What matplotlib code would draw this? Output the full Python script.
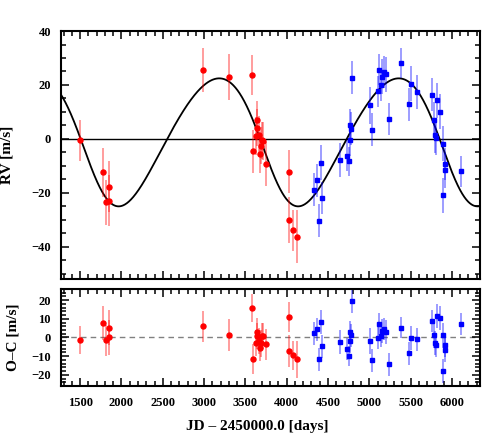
import numpy as np
import matplotlib
matplotlib.use("Agg")
import matplotlib.pyplot as plt
from matplotlib.ticker import MultipleLocator

# first instrument (red circles)
t_red = [1500, 1780, 1817, 1852, 1852, 2985, 3303, 3585, 3590, 3628, 3638,
         3645, 3666, 3680, 3690, 3704, 3710, 3750, 4027, 4027, 4079, 4120]
rv_red = [-0.6, -12.4, -23.5, -17.7, -22.9, 25.6, 23.0, 23.6, -4.6, 1.0, 6.9,
          4.2, 1.3, -5.6, -2.5, -0.6, -0.7, -9.4, -12.2, -30.1, -34.0, -36.3]
oc_red = [-1.6, 7.8, -1.6, 5.3, 0.2, 5.9, 1.4, 16.0, -11.7, -3.0, 3.2,
          0.9, -1.8, -5.7, -3.2, 0.6, 1.0, -3.7, 10.9, -7.1, -9.6, -11.7]
err_red = [7.5, 9.0, 8.3, 9.4, 9.4, 8.2, 8.6, 7.5, 8.0, 7.0, 7.0,
           7.0, 7.0, 7.0, 7.0, 7.0, 7.0, 8.2, 8.0, 8.5, 7.6, 9.8]

# second instrument (blue squares)
t_blue = [4331, 4371, 4395, 4419, 4424, 4640, 4728, 4755, 4760, 4770, 4778, 4785,
          5010, 5038, 5099, 5117, 5140, 5150, 5180, 5200, 5232, 5378, 5484, 5502,
          5580, 5758, 5781, 5798, 5803, 5820, 5859, 5888, 5888, 5914, 5918, 6113]
rv_blue = [-18.8, -15.4, -30.3, -8.9, -21.9, -7.8, -6.2, -8.4, -0.3, 5.0, 3.8, 22.7,
           12.4, 3.4, 17.6, 25.7, 20.1, 23.0, 24.9, 23.9, 7.3, 28.1, 12.8, 20.5,
           17.4, 16.4, 7.0, 1.3, 0.4, 14.3, 10.1, -1.9, -20.9, -9.3, -11.7, -12.1]
oc_blue = [2.3, 4.3, -11.7, 8.4, -4.8, -2.5, -6.0, -9.9, -2.1, 2.7, 1.1, 19.5,
           -2.1, -12.2, -0.3, 7.1, 0.7, 3.6, 4.6, 3.0, -14.4, 5.3, -8.5, -0.3,
           -0.9, 8.9, 1.1, -2.8, -4.2, 11.7, 10.6, 1.1, -17.9, -4.2, -6.5, 7.4]
err_blue = [6.2, 6.0, 6.2, 6.5, 6.0, 6.3, 5.8, 5.3, 6.0, 6.0, 6.0, 6.2,
            7.0, 6.2, 5.8, 5.8, 6.0, 6.5, 6.0, 6.5, 6.0, 5.7, 6.0, 6.5,
            6.2, 6.0, 6.5, 6.5, 6.5, 6.5, 6.5, 6.5, 6.5, 6.0, 6.5, 5.8]

# keplerian fit parameters
P = 2172.0
K = 23.75
ecc = 0.11
omega = np.radians(120.0)
Tp = 3839.0
gamma = 0.0


def kepler_rv(t):
    M = 2 * np.pi * (t - Tp) / P
    E = M.copy()
    for _ in range(30):
        E = E - (E - ecc * np.sin(E) - M) / (1 - ecc * np.cos(E))
    nu = 2 * np.arctan2(np.sqrt(1 + ecc) * np.sin(E / 2), np.sqrt(1 - ecc) * np.cos(E / 2))
    return K * (np.cos(nu + omega) + ecc * np.cos(omega)) + gamma


plt.rcParams['font.family'] = ['Liberation Serif', 'DejaVu Serif']
plt.rcParams['font.weight'] = 'bold'
plt.rcParams['font.size'] = 9

fig = plt.figure(figsize=(5.01, 4.42), dpi=100)
ax1 = fig.add_axes([0.1212, 0.3688, 0.837, 0.561])
ax2 = fig.add_axes([0.1212, 0.1267, 0.837, 0.2195])

xlim = (1265, 6340)
tt = np.linspace(xlim[0], xlim[1], 2000)

red_err = (1, 0, 0, 0.45)
blue_err = (0, 0, 1, 0.45)

ax1.axhline(0, color='black', lw=1.0, zorder=1)
ax1.plot(tt, kepler_rv(tt), color='black', lw=1.3, zorder=2)
ax1.errorbar(t_red, rv_red, yerr=err_red, fmt='o', color='red', ms=3.6,
             ecolor=red_err, elinewidth=1.2, capsize=0, zorder=3)
ax1.errorbar(t_blue, rv_blue, yerr=err_blue, fmt='s', color='blue', ms=3.0,
             ecolor=blue_err, elinewidth=1.2, capsize=0, zorder=3)

ax2.axhline(0, color='grey', lw=1.0, ls=(0, (4, 3)), zorder=1)
ax2.errorbar(t_red, oc_red, yerr=err_red, fmt='o', color='red', ms=3.6,
             ecolor=red_err, elinewidth=1.2, capsize=0, zorder=3)
ax2.errorbar(t_blue, oc_blue, yerr=err_blue, fmt='s', color='blue', ms=3.0,
             ecolor=blue_err, elinewidth=1.2, capsize=0, zorder=3)

ax1.set_xlim(xlim)
ax2.set_xlim(xlim)
ax1.set_ylim(-52, 40)
ax2.set_ylim(-26, 26)

for ax in (ax1, ax2):
    ax.xaxis.set_major_locator(MultipleLocator(500))
    ax.xaxis.set_minor_locator(MultipleLocator(100))
    ax.tick_params(which='both', direction='in', top=True, right=True, width=1.1)
    ax.tick_params(which='major', length=6, pad=7)
    ax.tick_params(which='minor', length=3.5)
    for sp in ax.spines.values():
        sp.set_linewidth(1.5)

ax1.yaxis.set_major_locator(MultipleLocator(20))
ax1.yaxis.set_minor_locator(MultipleLocator(5))
ax1.tick_params(labelbottom=False)
ax2.yaxis.set_major_locator(MultipleLocator(10))
ax2.yaxis.set_minor_locator(MultipleLocator(2))
ax2.tick_params(axis='x', which='major', pad=8)

ax1.set_ylabel("RV [m/s]", fontsize=11, fontweight='bold')
ax1.yaxis.set_label_coords(-0.112, 0.5)
ax2.set_ylabel("O–C [m/s]", fontsize=11, fontweight='bold')
ax2.yaxis.set_label_coords(-0.098, 0.5)
ax2.set_xlabel("JD – 2450000.0 [days]", fontsize=11, fontweight='bold')
ax2.xaxis.set_label_coords(0.469, -0.35)

fig.savefig("out.png", dpi=100)
